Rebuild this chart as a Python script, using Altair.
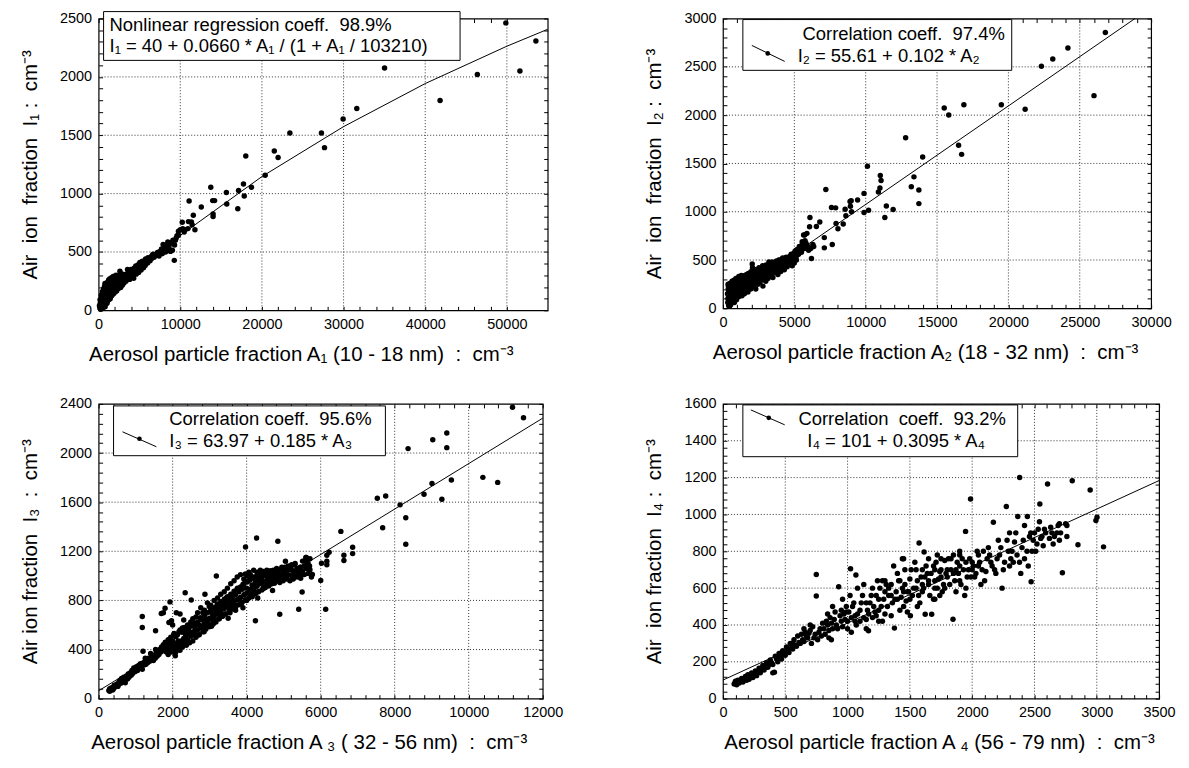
import altair as alt
import pandas as pd

# ---------------- Panel 1 data (A1 10-18 nm) ----------------
p1_A = [150, 200, 250, 300, 350, 400, 450, 500, 500, 550,
        600, 600, 650, 700, 700, 750, 800, 800, 850, 900,
        900, 950, 1000, 1000, 1050, 1100, 1100, 1150, 1200, 1200,
        1250, 1300, 1300, 1350, 1400, 1400, 1450, 1500, 1500, 1550,
        1600, 1600, 1700, 1700, 1750, 1800, 1800, 1900, 1900, 2000,
        2000, 2000, 2100, 2150, 2200, 2250, 2300, 2300, 2400, 2450,
        2500, 2550, 2600, 2610, 2700, 2700, 2800, 2850, 2900, 3000,
        3000, 3100, 3200, 3300, 3350, 3450, 3540, 3600, 3700, 3800,
        3900, 4000, 4100, 4200, 4300, 4400, 4500, 4600, 4700, 4800,
        4900, 5000, 5100, 5200, 5300, 5400, 5500, 5700, 5800, 6000,
        6100, 6300, 6500, 6600, 6800, 7000, 7200, 7400, 7500, 7700,
        7800, 7900, 8000, 8100, 8200, 8290, 8476, 8600, 8700, 8800,
        8300, 8500, 8700, 8900, 9100, 9300, 9500, 9600, 10000, 10300,
        10600, 11000, 9035, 9268, 9400, 9780, 9780, 10245, 10478, 10944,
        11084, 11363, 11456, 11596, 11800, 12574, 13738, 13971, 14204, 14018,
        14018, 15648, 15694, 17045, 17138, 17743, 17836, 18022, 18721, 20398,
        21515, 21981, 23425, 27290, 27663, 29945, 31620, 35020, 41820, 46384,
        49876, 51600, 53556,
        100, 180, 260, 330, 380, 460, 520, 570, 630, 680,
        730, 780, 840, 880, 940, 980, 1030, 1080, 1130, 1180,
        1230, 1280, 1330, 1380, 1420, 1480, 1530, 1580, 1630, 1680,
        1730, 1780, 1830, 1880, 1930, 1980, 2050, 2120, 2180, 2230,
        2330, 2380, 2480, 2530, 2640, 2750, 2780, 2880, 2950, 3050,
        3150, 3250, 3380, 3500, 3650, 3750, 3850, 3950, 4050, 4150,
        4250, 4350, 4450, 4550, 4650, 4750, 4850, 4950, 5050, 5150,
        5250, 5350, 5450, 5600, 5750, 5900, 6050, 6200, 6400, 6700]
p1_I = [20, 60, 10, 90, 35, 120, 55, 20, 150, 80,
        40, 180, 110, 60, 200, 140, 30, 215, 90, 150,
        190, 60, 110, 170, 215, 80, 135, 190, 110, 225,
        160, 95, 200, 240, 140, 180, 115, 210, 155, 250,
        125, 190, 160, 230, 265, 140, 200, 175, 245, 155,
        215, 275, 195, 245, 165, 225, 205, 280, 185, 245,
        215, 300, 235, 334, 195, 265, 235, 290, 215, 255,
        300, 235, 275, 305, 250, 285, 349, 275, 305, 265,
        315, 290, 335, 300, 275, 325, 355, 310, 335, 375,
        325, 355, 390, 345, 375, 400, 365, 385, 425, 405,
        445, 425, 445, 475, 455, 475, 495, 465, 505, 525,
        485, 565, 515, 545, 500, 514, 586, 530, 565, 505,
        560, 540, 520, 580, 600, 560, 620, 640, 690, 700,
        690, 760, 514, 428, 600, 643, 677, 754, 671, 700,
        937, 757, 734, 814, 690, 886, 1054, 940, 940, 803,
        826, 1009, 911, 871, 1026, 1083, 980, 1323, 1054, 1157,
        1366, 1309, 1520, 1520, 1394, 1640, 1729, 2077, 1797, 2020,
        2463, 2051, 2308,
        40, 90, 50, 130, 20, 160, 60, 120, 30, 170,
        90, 230, 140, 70, 210, 140, 60, 240, 170, 90,
        260, 130, 180, 270, 100, 240, 190, 280, 160, 250,
        200, 290, 170, 210, 270, 190, 240, 300, 210, 260,
        240, 290, 260, 230, 280, 250, 310, 260, 310, 270,
        300, 260, 310, 300, 330, 280, 320, 350, 310, 350,
        330, 360, 340, 380, 350, 360, 390, 370, 410, 370,
        400, 420, 390, 410, 440, 420, 450, 430, 460, 480]
p1_lineA = [0, 5000, 10000, 20000, 30000, 40000, 50000, 55000]
p1_lineI = [40, 355, 642, 1146, 1574, 1943, 2263, 2408]

# ---------------- Panel 2 data (A2 18-32 nm) ----------------
p2_A = [350, 380, 400, 420, 450, 480, 500, 520, 550, 580,
        600, 620, 650, 680, 700, 720, 750, 780, 800, 820,
        850, 880, 900, 930, 950, 980, 1000, 1030, 1050, 1080,
        1100, 1130, 1150, 1180, 1200, 1230, 1250, 1300, 1330, 1350,
        1400, 1430, 1450, 1500, 1530, 1550, 1600, 1650, 1700, 1700,
        1750, 1800, 1850, 1900, 1950, 2000, 2050, 2070, 2100, 2150,
        2200, 2250, 2300, 2350, 2400, 2450, 2500, 2550, 2600, 2650,
        2700, 2750, 2800, 2850, 2900, 2950, 3000, 3050, 3100, 3150,
        3200, 3250, 3300, 3350, 3400, 3450, 3500, 3550, 3600, 3650,
        3700, 3750, 3800, 3850, 3900, 3950, 4000, 4050, 4100, 4150,
        4200, 4250, 4300, 4350, 4400, 4450, 4500, 4600, 4650, 4700,
        4750, 4800, 4850, 4900, 4950, 5000, 5050, 5100, 5150, 5200,
        5300, 5400, 5500, 5550, 5600, 5650, 5700, 5724, 5800, 5883,
        5950, 6000, 6069, 6095, 6150, 6201, 6300, 6360, 6546, 6784,
        7102, 7102, 7208, 7606, 7659, 7897, 7924, 8056, 8427, 8560,
        8613, 8904, 8931, 8984, 9010, 9434, 9885, 9885, 10123, 10203,
        10892, 10998, 11077, 11024, 11342, 11448, 11925, 12800, 13197, 13383,
        13727, 13727, 13992, 15503, 15821, 16510, 16722, 16881, 19504, 21174,
        22313, 23108, 24168, 25997, 26792, 360, 400, 450,
        320, 340, 370, 390, 410, 430, 460, 490, 510, 540,
        560, 590, 610, 640, 660, 690, 710, 740, 770, 790,
        810, 840, 860, 890, 910, 940, 960, 990, 1010, 1040,
        1060, 1090, 1110, 1140, 1160, 1190, 1210, 1240, 1260, 1290,
        1310, 1340, 1370, 1390, 1420, 1440, 1470, 1490, 1520, 1540,
        1570, 1590, 1620, 1660, 1680, 1720, 1760, 1780, 1820, 1860,
        1880, 1920, 1960, 1980, 2020, 2080, 2120, 2180, 2220, 2280,
        2320, 2380, 2420, 2480, 2520, 2580, 2620, 2680, 2720, 2780,
        2820, 2880, 2920, 2980, 3020, 3080, 3120, 3180, 3220, 3280,
        3320, 3380, 3420, 3480, 3520, 3580, 3620, 3680, 3720, 3780,
        3820, 3880, 3920, 3980, 4020, 4080, 4120, 4180, 4220, 4280,
        4320, 4380, 4420, 4480, 4520, 4580, 4620, 4680, 4720, 4780,
        4820, 4880, 4920, 4980, 5020, 5080, 5120, 5180, 5250, 5350,
        5450, 5520, 5620, 5750, 5850]
p2_I = [100, 230, 30, 180, 250, 70, 140, 210, 40, 260,
        120, 190, 80, 230, 150, 270, 110, 200, 60, 240,
        170, 290, 130, 220, 90, 260, 180, 140, 300, 210,
        120, 250, 170, 310, 220, 150, 270, 200, 130, 320,
        240, 180, 290, 150, 260, 210, 330, 190, 280, 230,
        170, 300, 240, 350, 200, 270, 460, 420, 310, 230,
        330, 280, 200, 360, 300, 250, 390, 330, 270, 410,
        350, 300, 230, 380, 330, 430, 280, 400, 350, 310,
        450, 380, 330, 420, 370, 480, 320, 410, 460, 370,
        430, 490, 400, 350, 460, 420, 500, 380, 450, 500,
        420, 470, 400, 510, 450, 490, 430, 500, 460, 540,
        480, 520, 440, 560, 500, 470, 590, 530, 500, 610,
        560, 620, 580, 690, 650, 760, 620, 759, 680, 776,
        640, 600, 845, 941, 620, 516, 660, 640, 848, 893,
        732, 626, 1231, 1043, 660, 1040, 879, 824, 872, 1026,
        958, 1105, 1057, 1115, 999, 1122, 1190, 992, 1471, 1016,
        1204, 1245, 1324, 1375, 941, 1060, 1023, 1765, 1259, 1361,
        1224, 1084, 1566, 2073, 2001, 1689, 1594, 2107, 2107, 2062,
        2507, 2582, 2695, 2202, 2856, 250, 200, 20,
        150, 60, 200, 120, 240, 90, 190, 30, 260, 170,
        100, 210, 60, 280, 160, 110, 240, 180, 290, 140,
        210, 100, 260, 170, 310, 150, 230, 200, 290, 120,
        240, 170, 330, 200, 260, 150, 290, 230, 180, 340,
        250, 210, 290, 160, 260, 330, 220, 280, 190, 340,
        250, 300, 230, 350, 260, 310, 240, 360, 280, 320,
        220, 300, 380, 250, 330, 280, 370, 300, 250, 400,
        320, 270, 350, 310, 420, 360, 300, 380, 330, 440,
        350, 300, 390, 360, 450, 330, 420, 380, 480, 400,
        360, 450, 400, 440, 380, 470, 420, 400, 480, 440,
        470, 420, 500, 460, 430, 490, 460, 520, 480, 440,
        490, 470, 530, 500, 470, 530, 490, 510, 470, 560,
        500, 530, 490, 570, 530, 560, 600, 550, 580, 640,
        600, 650, 620, 700, 660]
p2_lineA = [300, 28867]
p2_lineI = [86, 3000]

# ---------------- Panel 3 data (A3 32-56 nm) ----------------
p3_A = [277, 300, 350, 400, 420, 450, 500, 520, 550, 580,
        600, 620, 650, 680, 700, 720, 750, 780, 800, 820,
        850, 880, 900, 920, 950, 980, 1000, 1020, 1050, 1080,
        1100, 1130, 1150, 1180, 1200, 1230, 1250, 1280, 1300, 1330,
        1350, 1380, 1406, 1420, 1450, 1480, 1500, 1530, 1550, 1580,
        1600, 1630, 1650, 1680, 1700, 1730, 1750, 1780, 1800, 1830,
        1850, 1880, 1900, 1930, 1950, 1980, 2000, 2030, 2050, 2073,
        1180, 1180, 1200, 1539, 1693, 1796, 1929, 1970, 2339, 2503,
        2873, 3181, 1750, 1900, 2000, 2100, 2200, 2300, 2200,
        2100, 2150, 2200, 2250, 2300, 2350, 2400, 2450, 2500, 2550,
        2600, 2650, 2700, 2750, 2800, 2850, 2900, 2950, 3000, 3050,
        3100, 3150, 3200, 3250, 3300, 3350, 3400, 3450, 3500, 3550,
        3600, 3650, 3700, 3750, 3800, 3850, 3900, 3950, 4000, 4050,
        4100, 4150, 4200, 4250, 4300, 4350, 4400, 4450, 4500, 4550,
        4600, 4650, 4700, 4750, 4800, 4850, 4900, 4950, 5000, 5050,
        5100, 5200, 5250, 5300, 5400, 5450, 5500, 5550, 5600, 5650,
        5700, 5750,
        2600, 2900, 3100, 3300, 3500, 3700, 3900, 4100, 4300, 4500,
        4700, 2400, 2800, 3200, 3600, 4000, 4200, 4400, 4600, 4800,
        3970, 4268, 4843, 4237, 4894, 5048, 5407, 5499, 5612, 5776,
        6002, 6023, 6135, 6167, 6167, 6167, 6228, 6546, 6628, 6628,
        6864, 6864, 7531, 7675, 7757, 8146, 8300, 8300, 8362, 8793,
        9008, 9029, 9275, 9408, 9408, 9532, 10383, 10783, 11183, 11481,
        300, 380, 460, 540, 610, 690, 760, 840, 910, 990,
        1060, 1140, 1220, 1290, 1370, 1440, 1510, 1590, 1660, 1740,
        1820, 1900, 1260, 1540, 1880, 1980,
        2040, 2040, 2040, 2085, 2085, 2130, 2130, 2130, 2170, 2170,
        2230, 2230, 2230, 2265, 2265, 2320, 2320, 2320, 2370, 2370,
        2405, 2405, 2405, 2460, 2460, 2490, 2490, 2490, 2545, 2545,
        2580, 2580, 2580, 2630, 2630, 2675, 2675, 2675, 2720, 2720,
        2760, 2760, 2760, 2815, 2815, 2860, 2860, 2860, 2895, 2895,
        2940, 2940, 2940, 2990, 2990, 3030, 3030, 3030, 3075, 3075,
        3120, 3120, 3120, 3170, 3170, 3215, 3215, 3215, 3260, 3260,
        3300, 3300, 3300, 3345, 3345, 3395, 3395, 3395, 3430, 3430,
        3480, 3480, 3480, 3525, 3525, 3570, 3570, 3570, 3610, 3610,
        3660, 3660, 3660, 3700, 3700, 3745, 3745, 3745, 3790, 3790,
        3835, 3835, 3835, 3880, 3880, 3925, 3925, 3925, 3965, 3965,
        4015, 4015, 4015, 4060, 4060, 4100, 4100, 4100, 4145, 4145,
        4190, 4190, 4190, 4235, 4235, 4280, 4280, 4280, 4320, 4320,
        4370, 4370, 4370, 4410, 4410, 4455, 4455, 4455, 4500, 4500,
        4545, 4545, 4545, 4590, 4590, 4630, 4630, 4630, 4680, 4680,
        4720, 4720, 4720, 4765, 4765, 4810, 4810, 4810, 4850, 4850,
        4895, 4895, 4940, 4940, 4985, 4985, 5030, 5030, 5080, 5080,
        5120, 5120, 5170, 5170, 5215, 5215, 5260, 5260, 5310, 5310,
        5360, 5360, 5410, 5410, 5460, 5460, 5510, 5510, 5560, 5560,
        5610, 5610, 5660, 5660, 5710, 5710]
p3_I = [67, 60, 90, 80, 110, 95, 120, 100, 135, 150,
        125, 165, 140, 175, 155, 130, 185, 160, 200, 175,
        210, 190, 230, 205, 250, 220, 240, 260, 230, 270,
        250, 285, 265, 240, 290, 275, 300, 280, 310, 295,
        330, 305, 367, 320, 340, 310, 350, 330, 370, 345,
        390, 360, 400, 380, 420, 390, 440, 410, 460, 380,
        430, 480, 400, 450, 500, 420, 470, 520, 440, 350,
        669, 580, 386, 553, 693, 736, 788, 634, 863, 804,
        850, 998, 700, 620, 600, 700, 690, 640, 560,
        430, 470, 395, 540, 490, 515, 455, 580, 510, 620,
        560, 600, 520, 660, 590, 545, 700, 620, 655, 590,
        640, 700, 760, 650, 730, 790, 690, 820, 745, 700,
        760, 845, 720, 900, 810, 770, 930, 850, 800, 960,
        890, 830, 990, 920, 870, 1010, 940, 900, 1030, 960,
        920, 1040, 980, 940, 1050, 1000, 960, 1070, 1020, 990,
        1000, 1060, 990, 1090, 1030, 1070, 1010, 1120, 1150, 1060,
        1080, 990,
        520, 585, 610, 690, 655, 760, 740, 850, 820, 905,
        880, 560, 640, 720, 790, 900, 870, 960, 990, 1010,
        1235, 1308, 1281, 634, 688, 1119, 728, 868, 1119, 1011,
        963, 1103, 728, 1090, 1119, 1168, 1192, 1362, 1125, 1168,
        1181, 1233, 1632, 1392, 1651, 1578, 1257, 1473, 2036, 1664,
        1753, 2109, 1624, 2044, 2163, 1780, 1802, 1761, 2373, 2287,
        80, 70, 110, 115, 140, 160, 170, 190, 210, 230,
        250, 270, 290, 300, 320, 330, 340, 370, 390, 420,
        440, 470, 330, 400, 360, 380,
        390, 430, 530, 380, 505, 415, 455, 520, 400, 545,
        440, 470, 548, 420, 575, 455, 540, 580, 435, 520,
        480, 575, 600, 455, 545, 510, 600, 625, 470, 650,
        540, 610, 590, 500, 665, 560, 625, 700, 520, 600,
        580, 650, 740, 545, 700, 610, 680, 720, 565, 650,
        630, 700, 780, 585, 750, 650, 720, 760, 605, 690,
        670, 740, 800, 625, 710, 690, 770, 820, 650, 745,
        710, 790, 850, 670, 760, 735, 810, 870, 690, 775,
        750, 830, 900, 710, 800, 770, 850, 935, 730, 820,
        790, 875, 960, 745, 845, 805, 890, 990, 765, 870,
        825, 910, 1010, 785, 890, 845, 935, 975, 805, 1015,
        860, 950, 1000, 820, 1030, 880, 970, 1010, 840, 925,
        900, 985, 1045, 855, 950, 915, 1005, 1030, 870, 970,
        935, 1020, 1045, 885, 990, 950, 1035, 900, 905, 1000,
        965, 1045, 930, 920, 1010, 980, 1040, 950, 935, 1020,
        995, 1045, 960, 950, 1030, 1005, 975, 1060, 965, 1040,
        1010, 945, 985, 1050, 960, 1030, 1000, 1070, 975, 1045,
        1010, 1080, 960, 1050, 1000, 1090, 975, 1040, 1020, 1100,
        990, 1060, 1030, 1000, 980, 1070, 1040, 1120, 1010, 1080,
        1060, 1150, 1020, 1100, 1050, 1140]
p3_lineA = [0, 12000]
p3_lineI = [64, 2284]

# ---------------- Panel 4 data (A4 56-79 nm) ----------------
p4_A = [90, 100, 110, 120, 130, 150, 160, 180, 190, 200,
        210, 230, 240, 260, 270, 290, 300, 320, 330, 350,
        360, 380, 400, 400, 413, 420, 440, 450, 470, 480,
        500, 510, 530, 540, 560, 570, 590, 600, 620, 630,
        650, 660, 680, 700, 710, 720, 740, 749, 749, 760,
        780, 800, 820, 840, 860, 880, 893, 900, 929, 950,
        970, 990, 1000, 1024, 1030, 1050, 1067, 1070, 1100, 1120,
        1150, 1168, 1180, 1200, 1220, 1240, 1250, 1280, 1300, 1320,
        1350, 1376, 1380, 1400, 1420, 1440, 1450, 1470, 1500, 1504,
        1520, 1550, 1574, 1580, 1600, 1614, 1623, 1640, 1660, 1675,
        1690, 1700, 1720, 1740, 1760, 1780, 1800, 1820, 1846, 1850,
        1870, 1900, 1920, 1947, 1950, 1970, 1987, 2000, 2020, 2050,
        2080, 2100, 2130, 2150, 2170, 2190, 2220, 2240, 2274, 2280,
        2300, 2320, 2350, 2366, 2381, 2390, 2400, 2420, 2443, 2460,
        2473, 2480, 2500, 2520, 2543, 2560, 2580, 2605, 2620, 2650,
        2680, 2700, 2724, 2750, 2803, 2849, 2947, 2993, 3002, 3054,
        1100, 1150, 1200, 1250, 1300, 1350, 1400, 1450, 1500, 1550,
        1600, 1650, 1700, 1750, 1800, 1850, 1900, 1950, 2000, 2050,
        1000, 1060, 950, 850, 920, 1300, 1450, 1600, 1750, 1900,
        100, 140, 170, 200, 220, 250, 280, 310, 340, 370,
        390, 430, 460, 490, 520, 550, 580, 610, 640, 670,
        690, 730, 770, 790, 810, 830, 850, 870, 910, 940,
        960, 980, 1010, 1040, 1060, 1080, 1110, 1130, 1160, 1190,
        1210, 1230, 1260, 1270, 1290, 1310, 1330, 1360, 1390, 1410,
        1430, 1460, 1480, 1510, 1530, 1560, 1570, 1590, 1610, 1630,
        1650, 1670, 1700, 1710, 1730, 1750, 1770, 1790, 1810, 1830,
        1860, 1880, 1890, 1910, 1930, 1960, 1980, 2010, 2030, 2060,
        2090, 2110, 2140, 2160, 2200, 2230, 2260, 2290, 2310, 2340,
        2360, 2410, 2440, 2470, 2490, 2530, 2550, 2590, 2630, 2660,
        2690, 2710, 2760, 1480, 1700, 1350, 1150, 1250, 1030, 870,
        1020, 1080, 1130, 1170, 1230, 1280, 1330, 1370, 1420, 1440,
        1460, 1490, 1540, 1560, 1620, 1650, 1690, 1720, 1740, 1780,
        1830, 1870, 1900, 1940, 1990, 2040, 2070, 2120, 2180, 2210,
        2250, 2300, 2330, 2380, 2420, 2450, 2510, 2540, 2570, 2640,
        2700, 2760, 840, 880, 960, 990, 700, 650, 560, 470]
p4_I = [80, 95, 75, 100, 85, 110, 90, 120, 100, 130,
        105, 140, 115, 150, 125, 165, 140, 180, 155, 195,
        170, 210, 185, 140, 144, 230, 200, 245, 215, 260,
        235, 280, 250, 300, 270, 320, 285, 340, 300, 350,
        310, 360, 330, 370, 300, 390, 350, 674, 557, 320,
        380, 410, 350, 400, 440, 380, 430, 470, 608, 420,
        460, 500, 380, 705, 440, 520, 671, 400, 480, 560,
        430, 369, 520, 600, 470, 640, 540, 420, 580, 500,
        620, 383, 540, 680, 480, 600, 760, 530, 650, 450,
        560, 700, 845, 520, 620, 796, 458, 680, 560, 458,
        720, 640, 600, 690, 580, 750, 660, 620, 431, 780,
        700, 640, 760, 908, 600, 700, 1084, 740, 660, 780,
        700, 640, 820, 740, 958, 680, 780, 600, 1043, 860,
        720, 800, 900, 989, 1201, 680, 820, 760, 989, 880,
        635, 800, 900, 840, 1057, 880, 920, 1165, 870, 840,
        900, 950, 683, 950, 1183, 836, 1133, 967, 985, 824,
        420, 520, 440, 480, 460, 560, 540, 580, 540, 600,
        580, 640, 700, 660, 700, 680, 720, 740, 700, 720,
        420, 450, 480, 330, 380, 640, 500, 700, 760, 780,
        88, 95, 105, 115, 120, 135, 145, 160, 170, 185,
        195, 215, 230, 245, 260, 275, 290, 305, 320, 340,
        355, 330, 360, 340, 380, 420, 370, 410, 400, 450,
        390, 430, 470, 500, 420, 460, 520, 440, 480, 560,
        500, 450, 600, 500, 540, 620, 560, 520, 580, 640,
        550, 620, 580, 700, 600, 640, 560, 660, 600, 720,
        620, 680, 600, 740, 650, 700, 620, 680, 760, 700,
        640, 740, 680, 620, 700, 660, 760, 720, 680, 740,
        800, 690, 780, 720, 760, 820, 740, 800, 760, 850,
        780, 860, 800, 900, 860, 920, 870, 900, 930, 880,
        940, 900, 880, 470, 540, 450, 380, 420, 360, 320,
        560, 600, 620, 460, 560, 640, 600, 720, 640, 760,
        700, 580, 740, 500, 660, 760, 540, 780, 560, 600,
        760, 580, 800, 560, 660, 800, 620, 760, 700, 860,
        700, 900, 740, 740, 940, 720, 800, 960, 830, 900,
        860, 940, 460, 500, 540, 470, 400, 380, 300, 250]
p4_lineA = [0, 3500]
p4_lineI = [101, 1184]

# ---------------- Axis ticks (major labelled, minor step) ----------------
p1_xticks = [0, 10000, 20000, 30000, 40000, 50000]
p1_yticks = [0, 500, 1000, 1500, 2000, 2500]
p2_xticks = [0, 5000, 10000, 15000, 20000, 25000, 30000]
p2_yticks = [0, 500, 1000, 1500, 2000, 2500, 3000]
p3_xticks = [0, 2000, 4000, 6000, 8000, 10000, 12000]
p3_yticks = [0, 400, 800, 1200, 1600, 2000, 2400]
p4_xticks = [0, 500, 1000, 1500, 2000, 2500, 3000, 3500]
p4_yticks = [0, 200, 400, 600, 800, 1000, 1200, 1400, 1600]

# ---------------- Text ----------------
NB = "\u00a0"
x_titles = [
    f"Aerosol particle fraction A₁ (10 - 18 nm){NB}{NB}:{NB}{NB}cm⁻³",
    f"Aerosol particle fraction A₂ (18 - 32 nm){NB}{NB}:{NB}{NB}cm⁻³",
    f"Aerosol particle fraction A ₃ ( 32 - 56 nm){NB}{NB}:{NB}{NB}cm⁻³",
    f"Aerosol particle fraction A ₄ (56 - 79 nm){NB}{NB}:{NB}{NB}cm⁻³",
]
y_titles = [
    f"Air{NB} ion{NB} fraction{NB} I₁ :{NB} cm⁻³",
    f"Air{NB} ion{NB} fraction{NB} I₂ :{NB} cm⁻³",
    f"Air ion fraction{NB} I₃ {NB}:{NB} cm⁻³",
    f"Air{NB} ion fraction{NB} I₄ :{NB} cm⁻³",
]
legend_lines = [
    [f"Nonlinear regression coeff.{NB} 98.9%", "I₁ = 40 + 0.0660 * A₁ / (1 + A₁ / 103210)"],
    [f"Correlation coeff.{NB} 97.4%", "I₂ = 55.61 + 0.102 * A₂"],
    [f"Correlation coeff.{NB} 95.6%", "I₃ = 63.97 + 0.185 * A₃"],
    [f"Correlation{NB} coeff.{NB} 93.2%", "I₄ = 101 + 0.3095 * A₄"],
]

FONT = "Liberation Sans"
TICK = 4
GRID_COLOR = "#333333"


def all_ticks(major, minor_step):
    return list(range(0, major[-1] + 1, minor_step))


def panel(A, I, lA, lI, xdom, xmaj, xmin, ydom, ymaj, ymin, xt, yt, w, h, lines, box, txt, sym, title_x):
    df = pd.DataFrame({"A": A, "I": I})
    ldf = pd.DataFrame({"A": lA, "I": lI})
    one = pd.DataFrame({"k": [0]})
    xgrid = pd.DataFrame({"A": [v for v in xmaj if 0 < v < xdom[1]]})
    ygrid = pd.DataFrame({"I": [v for v in ymaj if 0 < v < ydom[1]]})
    xall = all_ticks(xmaj, xmin)
    yall = all_ticks(ymaj, ymin)
    xstep = xmaj[1] - xmaj[0]
    ystep = ymaj[1] - ymaj[0]
    xscale = alt.Scale(domain=xdom, nice=False, zero=False)
    yscale = alt.Scale(domain=ydom, nice=False, zero=False)
    xenc = alt.X("A:Q", scale=xscale,
                 axis=alt.Axis(values=xall, tickCount=500, title=xt, format="d", grid=False,
                               labelExpr=f"datum.value % {xstep} === 0 ? datum.label : ''",
                               ticks=True, tickSize=TICK, offset=-TICK, titleX=title_x))
    yenc = alt.Y("I:Q", scale=yscale,
                 axis=alt.Axis(values=yall, tickCount=500, title=yt, format="d", grid=False,
                               labelExpr=f"datum.value % {ystep} === 0 ? datum.label : ''",
                               ticks=True, tickSize=TICK, offset=-TICK))
    vgrid = alt.Chart(xgrid).mark_rule(color=GRID_COLOR, strokeWidth=1, strokeDash=[1, 2]).encode(
        x=alt.X("A:Q", scale=xscale, axis=None))
    hgrid = alt.Chart(ygrid).mark_rule(color=GRID_COLOR, strokeWidth=1, strokeDash=[1, 2]).encode(
        y=alt.Y("I:Q", scale=yscale, axis=None))
    pts = alt.Chart(df).mark_circle(size=30, color="black", opacity=1).encode(x=xenc, y=yenc)
    line = alt.Chart(ldf).mark_line(color="black", strokeWidth=1).encode(
        x=alt.X("A:Q", axis=alt.Axis(orient="top", values=xall, tickCount=500, labels=False,
                                     domain=False, grid=False, title=None, ticks=True,
                                     tickSize=TICK, offset=-TICK)),
        y=alt.Y("I:Q", axis=alt.Axis(orient="right", values=yall, tickCount=500, labels=False,
                                     domain=False, grid=False, title=None, ticks=True,
                                     tickSize=TICK, offset=-TICK)))
    layers = [vgrid, hgrid, pts, line]
    bx0, by0, bx1, by1 = box
    layers.append(alt.Chart(one).mark_rect(fill="white", stroke="black", strokeWidth=1).encode(
        x=alt.value(bx0), x2=alt.value(bx1), y=alt.value(by0), y2=alt.value(by1)))
    if sym is not None:
        sx0, sy0, sx1, sy1, dx, dy = sym
        layers.append(alt.Chart(one).mark_rule(color="black", strokeWidth=1).encode(
            x=alt.value(sx0), x2=alt.value(sx1), y=alt.value(sy0), y2=alt.value(sy1)))
        layers.append(alt.Chart(one).mark_circle(size=22, color="black", opacity=1).encode(
            x=alt.value(dx), y=alt.value(dy)))
    for (tx, ty, al), s in zip(txt, lines):
        layers.append(alt.Chart(one).mark_text(text=s, align=al, baseline="middle", font=FONT,
                                               fontSize=18.5, color="black").encode(
            x=alt.value(tx), y=alt.value(ty)))
    return alt.layer(*layers).resolve_axis(x="independent", y="independent").properties(
        width=w, height=h)


p1 = panel(p1_A, p1_I, p1_lineA, p1_lineI, [0, 55000], p1_xticks, 2000, [0, 2500], p1_yticks, 100,
           x_titles[0], y_titles[0], 451, 293,
           legend_lines[0], (5, -7, 363, 42), [(11, 6, "left"), (11, 28, "left")], None, 203)
p2 = panel(p2_A, p2_I, p2_lineA, p2_lineI, [0, 30000], p2_xticks, 1000, [0, 3000], p2_yticks, 100,
           x_titles[1], y_titles[1], 430, 291,
           legend_lines[1], (20, 1, 290, 52), [(283, 16, "right"), (75, 38, "left")],
           (29, 27, 62, 43, 45, 35), 203)
p3 = panel(p3_A, p3_I, p3_lineA, p3_lineI, [0, 12000], p3_xticks, 400, [0, 2400], p3_yticks, 80,
           x_titles[2], y_titles[2], 446, 296,
           legend_lines[2], (15, 2, 288, 52), [(71, 15, "left"), (71, 37, "left")],
           (24, 28, 58, 43, 41, 35), 211)
p4 = panel(p4_A, p4_I, p4_lineA, p4_lineI, [0, 3500], p4_xticks, 100, [0, 1600], p4_yticks, 40,
           x_titles[3], y_titles[3], 438, 296,
           legend_lines[3], (20, 1, 296, 53), [(284, 15, "right"), (174, 37, "center")],
           (28, 6, 62, 21, 46, 14), 217)

chart = alt.concat(p1, p2, p3, p4, columns=2, spacing={"row": 94, "column": 176},
                   bounds="flush").properties(
    padding={"left": 12, "top": 0, "right": 5, "bottom": 5},
    background="white",
).configure_axis(
    labelFont=FONT, labelFontSize=14.5, labelColor="black", labelFlush=False,
    labelOverlap=False, labelPadding=7,
    titleFont=FONT, titleFontSize=20.5, titleFontWeight="normal", titleColor="black",
    titlePadding=14,
    domain=False, tickColor="black", tickWidth=1,
).configure_axisY(titlePadding=19).configure_view(stroke="black", strokeWidth=1.2)

chart.save("out.html", embed_options={"renderer": "svg", "actions": False})
